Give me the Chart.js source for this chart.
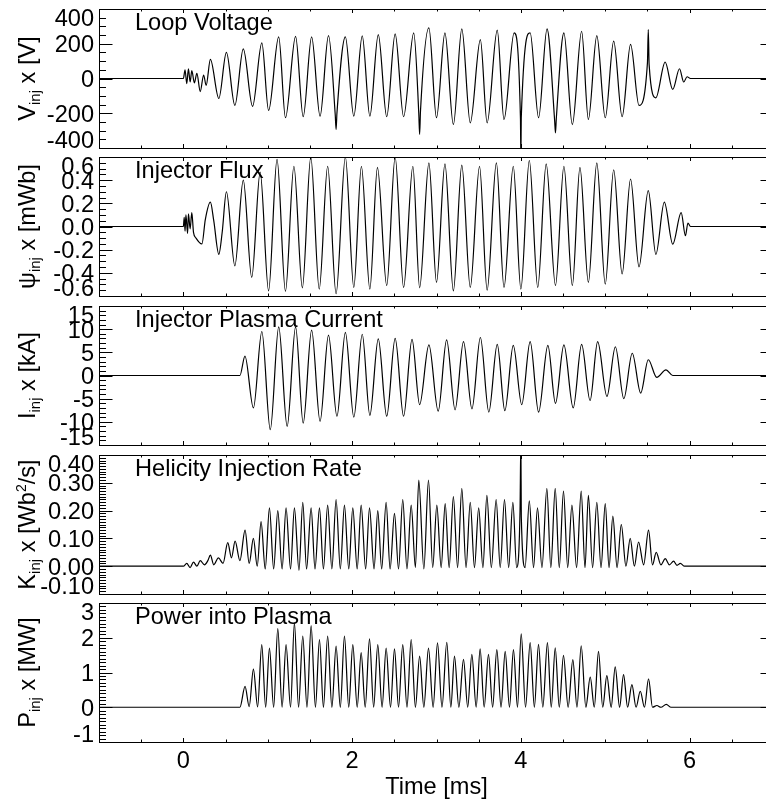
<!DOCTYPE html>
<html><head><meta charset="utf-8">
<script src="https://cdn.jsdelivr.net/npm/chart.js@4/dist/chart.umd.min.js"></script>
<style>
html,body{margin:0;padding:0;background:#fff;overflow:hidden;width:766px;height:806px;position:relative}
canvas{position:absolute;left:0;top:0}
</style></head><body>
<canvas id="c0" width="800" height="806"></canvas>
<canvas id="c1" width="800" height="806"></canvas>
<canvas id="c2" width="800" height="806"></canvas>
<canvas id="c3" width="800" height="806"></canvas>
<canvas id="c4" width="800" height="806"></canvas>
<script>
// ---------------- data ----------------
// Loop voltage [V]
const voltT = [-1, 0, 0.02, 0.04, 0.06, 0.08, 0.10, 0.13, 0.16, 0.20, 0.24, 0.27, 0.32, 0.42, 0.51, 0.61, 0.71, 0.82, 0.93, 1.01, 1.13, 1.21, 1.33, 1.42, 1.52, 1.62, 1.72, 1.80, 1.81, 1.82, 1.92, 2.02, 2.12, 2.21, 2.31, 2.41, 2.51, 2.61, 2.73, 2.79, 2.80, 2.81, 2.91, 3.00, 3.10, 3.20, 3.30, 3.40, 3.52, 3.60, 3.72, 3.80, 3.92, 3.995, 4.00, 4.005, 4.11, 4.21, 4.31, 4.40, 4.41, 4.42, 4.51, 4.61, 4.72, 4.80, 4.90, 5.00, 5.10, 5.20, 5.30, 5.40, 5.50, 5.51, 5.52, 5.60, 5.71, 5.80, 5.88, 5.93, 5.97, 6.01, 7];
const voltV = [0, 0, 50, -30, 55, -20, 45, -25, 30, -75, 20, -40, 110, -115, 150, -155, 170, -160, 205, -184, 240, -226, 243, -220, 240, -217, 247, -210, -293, -200, 240, -217, 245, -217, 253, -220, 257, -220, 263, -200, -322, -190, 291, -226, 263, -265, 286, -255, 224, -255, 278, -236, 263, -230, -460, -220, 263, -226, 286, -240, -313, -230, 263, -265, 272, -236, 247, -226, 215, -220, 196, -155, 90, 282, 80, -111, 94, -63, 56, -20, 10, 0, 0];
// Injector flux [mWb]
const psiT = [-1, 0, 0.01, 0.02, 0.03, 0.05, 0.06, 0.08, 0.10, 0.12, 0.15, 0.22, 0.26, 0.32, 0.36, 0.42, 0.46, 0.51, 0.61, 0.71, 0.81, 0.91, 1.01, 1.11, 1.21, 1.31, 1.41, 1.51, 1.61, 1.71, 1.81, 1.92, 2.02, 2.11, 2.21, 2.30, 2.41, 2.51, 2.61, 2.72, 2.80, 2.91, 3.00, 3.10, 3.20, 3.30, 3.40, 3.51, 3.60, 3.71, 3.80, 3.91, 4.00, 4.10, 4.20, 4.30, 4.41, 4.51, 4.61, 4.70, 4.80, 4.90, 5.00, 5.10, 5.20, 5.30, 5.40, 5.51, 5.60, 5.70, 5.80, 5.90, 5.95, 5.98, 6.01, 7];
const psiV = [0, 0, 0.08, -0.04, 0.10, -0.06, 0.11, -0.02, 0.12, -0.05, -0.10, -0.15, 0.06, 0.21, 0.05, -0.24, -0.05, 0.30, -0.34, 0.40, -0.44, 0.47, -0.555, 0.58, -0.56, 0.52, -0.53, 0.60, -0.54, 0.52, -0.58, 0.60, -0.526, 0.52, -0.54, 0.51, -0.51, 0.60, -0.526, 0.52, -0.53, 0.55, -0.483, 0.54, -0.555, 0.53, -0.526, 0.52, -0.549, 0.55, -0.526, 0.52, -0.54, 0.57, -0.526, 0.54, -0.51, 0.52, -0.51, 0.51, -0.483, 0.55, -0.497, 0.49, -0.41, 0.41, -0.348, 0.31, -0.24, 0.21, -0.152, 0.12, -0.08, 0.03, 0, 0];
// Injector plasma current [kA]
const curT = [-1, 0.67, 0.73, 0.83, 0.93, 1.03, 1.13, 1.23, 1.33, 1.42, 1.52, 1.62, 1.72, 1.82, 1.92, 2.02, 2.12, 2.21, 2.31, 2.41, 2.51, 2.61, 2.71, 2.80, 2.91, 3.02, 3.12, 3.22, 3.32, 3.42, 3.52, 3.62, 3.72, 3.81, 3.91, 4.01, 4.11, 4.21, 4.32, 4.41, 4.51, 4.62, 4.72, 4.82, 4.91, 5.02, 5.12, 5.22, 5.32, 5.42, 5.51, 5.61, 5.72, 5.80, 7];
const curV = [0, 0, 4.2, -7.0, 9.5, -11.7, 10.5, -11.0, 10.5, -10.3, 9.8, -9.9, 8.7, -8.8, 9.3, -9.0, 8.9, -8.6, 7.9, -8.8, 8.0, -8.8, 7.8, -6.3, 6.6, -7.7, 7.7, -7.4, 7.3, -7.2, 8.2, -7.9, 6.7, -7.6, 6.5, -6.3, 7.3, -7.9, 6.5, -6.0, 6.6, -7.0, 6.7, -5.4, 7.3, -4.5, 6.2, -5.0, 4.8, -3.8, 3.4, -0.4, 1.2, 0, 0];
// Helicity injection rate [Wb^2/s]
const kT = [-1, 0, 0.04, 0.08, 0.12, 0.16, 0.20, 0.25, 0.29, 0.32, 0.36, 0.415, 0.47, 0.526, 0.57, 0.613, 0.67, 0.731, 0.78, 0.83, 0.875, 0.921, 0.97, 1.02, 1.07, 1.119, 1.17, 1.217, 1.27, 1.316, 1.37, 1.415, 1.46, 1.514, 1.56, 1.613, 1.66, 1.71, 1.76, 1.81, 1.86, 1.909, 1.96, 2.008, 2.06, 2.107, 2.16, 2.206, 2.26, 2.304, 2.35, 2.403, 2.45, 2.502, 2.55, 2.60, 2.65, 2.70, 2.75, 2.79, 2.85, 2.905, 2.955, 3.004, 3.055, 3.103, 3.15, 3.20, 3.25, 3.30, 3.35, 3.40, 3.45, 3.50, 3.55, 3.597, 3.65, 3.707, 3.755, 3.806, 3.855, 3.905, 3.95, 3.99, 4.0, 4.005, 4.05, 4.10, 4.15, 4.197, 4.25, 4.308, 4.355, 4.407, 4.455, 4.505, 4.555, 4.605, 4.66, 4.715, 4.76, 4.80, 4.85, 4.90, 4.95, 5.0, 5.045, 5.09, 5.14, 5.19, 5.245, 5.296, 5.345, 5.395, 5.455, 5.513, 5.56, 5.604, 5.66, 5.711, 5.76, 5.81, 5.85, 5.89, 5.94, 6.0, 7];
const kV = [0, 0, 0.01, -0.005, 0.015, 0.0, 0.02, 0.005, 0.02, 0.04, 0.005, 0.03, 0.01, 0.085, 0.03, 0.09, 0.02, 0.13, 0.01, 0.10, 0.0, 0.16, -0.01, 0.21, -0.01, 0.20, -0.01, 0.21, -0.01, 0.21, -0.015, 0.23, -0.01, 0.21, -0.01, 0.21, -0.01, 0.22, -0.01, 0.24, -0.01, 0.22, -0.01, 0.21, -0.01, 0.22, -0.01, 0.21, -0.01, 0.20, -0.01, 0.23, -0.01, 0.19, -0.01, 0.24, -0.01, 0.22, -0.005, 0.31, -0.01, 0.31, -0.005, 0.22, -0.005, 0.225, -0.005, 0.25, -0.005, 0.28, -0.005, 0.23, -0.005, 0.21, -0.005, 0.255, -0.005, 0.24, -0.005, 0.24, -0.005, 0.23, -0.005, 0.20, 0.45, 0.18, -0.005, 0.235, -0.005, 0.21, -0.005, 0.28, -0.005, 0.28, -0.005, 0.27, -0.005, 0.22, -0.005, 0.27, -0.005, 0.255, -0.005, 0.23, -0.005, 0.225, -0.005, 0.18, -0.005, 0.15, 0.0, 0.10, 0.0, 0.087, 0.005, 0.13, 0.005, 0.05, 0.005, 0.027, 0.005, 0.018, 0.003, 0.01, 0.0, 0, 0];
// Power into plasma [MW]: peaks and lows
const pPeakT = [0.731, 0.83, 0.929, 1.02, 1.119, 1.217, 1.316, 1.415, 1.514, 1.613, 1.71, 1.81, 1.909, 2.008, 2.107, 2.206, 2.304, 2.403, 2.502, 2.60, 2.70, 2.80, 2.905, 3.012, 3.122, 3.213, 3.32, 3.419, 3.517, 3.616, 3.715, 3.814, 3.912, 4.004, 4.11, 4.209, 4.315, 4.407, 4.505, 4.616, 4.715, 4.822, 4.92, 5.019, 5.118, 5.217, 5.316, 5.415, 5.513, 5.612, 5.723];
const pPeakV = [0.6, 1.1, 1.8, 1.7, 2.26, 1.8, 2.43, 2.05, 2.35, 1.95, 2.05, 1.76, 2.05, 1.8, 1.57, 1.97, 1.8, 1.7, 1.68, 1.8, 1.95, 1.47, 1.7, 1.85, 1.87, 1.47, 1.38, 1.52, 1.68, 1.52, 1.66, 1.61, 1.66, 2.11, 1.86, 1.81, 1.86, 1.71, 1.49, 1.37, 1.77, 0.87, 1.61, 0.91, 1.16, 0.94, 0.65, 0.46, 0.82, 0.05, 0.08];
const pLowT = [-1, 0.67, 0.78, 0.88, 0.975, 1.07, 1.17, 1.27, 1.365, 1.465, 1.565, 1.66, 1.76, 1.86, 1.96, 2.06, 2.155, 2.255, 2.355, 2.455, 2.55, 2.65, 2.75, 2.85, 2.96, 3.065, 3.17, 3.265, 3.37, 3.47, 3.565, 3.665, 3.765, 3.865, 3.96, 4.055, 4.16, 4.26, 4.36, 4.455, 4.56, 4.665, 4.77, 4.87, 4.97, 5.07, 5.17, 5.265, 5.365, 5.465, 5.56, 5.66, 5.78, 7];
const pLowV = [0, 0, 0.02, 0.01, 0, 0, 0, 0, 0, 0, 0, 0, 0, 0, 0, 0, 0, 0, 0, 0, 0, 0, 0, 0, 0, 0, 0, 0, 0, 0, 0, 0, 0, 0, 0, 0, 0, 0, 0, 0, 0, 0, 0, 0, 0, 0, 0, 0, 0, 0, 0, 0, 0, 0];

// tick labels
const xTickVals = [0, 2, 4, 6];
const xTickText = ['0', '2', '4', '6'];
const vTickVals = [400, 200, 0, -200, -400];
const vTickText = ['400', '200', '0', '-200', '-400'];
const psiTickVals = [0.6, 0.4, 0.2, 0, -0.2, -0.4, -0.6];
const psiTickText = ['0.6', '0.4', '0.2', '0.0', '-0.2', '-0.4', '-0.6'];
const curTickVals = [15, 10, 5, 0, -5, -10, -15];
const curTickText = ['15', '10', '5', '0', '-5', '-10', '-15'];
const kTickVals = [0.4, 0.3, 0.2, 0.1, 0, -0.1];
const kTickText = ['0.40', '0.30', '0.20', '0.10', '0.00', '-0.10'];
const pTickVals = [3, 2, 1, 0, -1];
const pTickText = ['3', '2', '1', '0', '-1'];
const panelTitles = ['Loop Voltage', 'Injector Flux', 'Injector Plasma Current', 'Helicity Injection Rate', 'Power into Plasma'];

// ---------------- layout ----------------
const FONT = '"Liberation Sans", Arial, Helvetica, sans-serif';
const FS = 23.6;
const CW = 800, CH = 806;
const LEFT = 99, RIGHT = 774;

function pairs(t, v) { return t.map((x, i) => ({x: x, y: v[i]})); }
function merged(t1, v1, t2, v2) { return pairs(t1, v1).concat(pairs(t2, v2)).sort((a, b) => a.x - b.x); }

const sub = (t) => ({t: t, s: 15, dy: 5});
const panels = [
  {top: 9, bottom: 148, min: -400, max: 400, major: 200, minor: 50, tv: vTickVals, tt: vTickText,
   ylab: [{t: 'V', s: FS}, sub('inj'), {t: ' x [V]', s: FS}], data: pairs(voltT, voltV)},
  {top: 157, bottom: 296, min: -0.6, max: 0.6, major: 0.2, minor: 0.05, tv: psiTickVals, tt: psiTickText,
   ylab: [{t: 'ψ', s: FS}, sub('inj'), {t: ' x [mWb]', s: FS}], data: pairs(psiT, psiV)},
  {top: 306, bottom: 445, min: -15, max: 15, major: 5, minor: 1, tv: curTickVals, tt: curTickText,
   ylab: [{t: 'I', s: FS}, sub('inj'), {t: ' x [kA]', s: FS}], data: pairs(curT, curV)},
  {top: 455, bottom: 594, min: -0.1, max: 0.4, major: 0.1, minor: 0.01, tv: kTickVals, tt: kTickText,
   ylab: [{t: 'K', s: FS}, sub('inj'), {t: ' x [Wb', s: FS}, {t: '2', s: 14, dy: -9}, {t: '/s]', s: FS}], data: pairs(kT, kV)},
  {top: 603, bottom: 742, min: -1, max: 3, major: 1, minor: 0.1, tv: pTickVals, tt: pTickText,
   ylab: [{t: 'P', s: FS}, sub('inj'), {t: ' x [MW]', s: FS}], data: merged(pPeakT, pPeakV, pLowT, pLowV), xlabels: true}
];

function drawRotated(ctx, runs, bx, cy) {
  ctx.save();
  ctx.translate(bx, cy);
  ctx.rotate(-Math.PI / 2);
  let total = 0;
  runs.forEach(r => { ctx.font = r.s + 'px ' + FONT; r.w = ctx.measureText(r.t).width; total += r.w; });
  let x = -total / 2;
  ctx.textAlign = 'left'; ctx.textBaseline = 'alphabetic';
  runs.forEach(r => { ctx.font = r.s + 'px ' + FONT; ctx.fillText(r.t, x, r.dy || 0); x += r.w; });
  ctx.restore();
}

function framePlugin(p, idx) {
  return {
    id: 'frame' + idx,
    afterDraw(chart) {
      const ctx = chart.ctx, a = chart.chartArea, xs = chart.scales.x, ys = chart.scales.y;
      ctx.save();
      ctx.strokeStyle = '#000'; ctx.fillStyle = '#000'; ctx.lineWidth = 1;
      ctx.strokeRect(a.left + 0.5, a.top + 0.5, a.right - a.left, a.bottom - a.top);
      ctx.beginPath();
      // x ticks (inward, top and bottom)
      for (let i = 0; i <= 16; i++) {
        const t = -1 + i * 0.5;
        const px = Math.round(xs.getPixelForValue(t)) + 0.5;
        const len = (Math.abs(t % 2) < 1e-9) ? 4 : 2.5;
        ctx.moveTo(px, a.bottom); ctx.lineTo(px, a.bottom - len);
        ctx.moveTo(px, a.top); ctx.lineTo(px, a.top + len);
      }
      // y ticks (inward, left and right)
      const n = Math.round((p.max - p.min) / p.minor);
      for (let i = 0; i <= n; i++) {
        const v = p.min + i * p.minor;
        const q = v / p.major;
        const isMajor = Math.abs(q - Math.round(q)) < 1e-6;
        const len = isMajor ? 13.5 : 7;
        const py = Math.round(ys.getPixelForValue(v)) + 0.5;
        ctx.moveTo(a.left, py); ctx.lineTo(a.left + len, py);
        ctx.moveTo(a.right, py); ctx.lineTo(a.right - len, py);
      }
      ctx.stroke();
      // y tick labels
      ctx.font = FS + 'px ' + FONT;
      ctx.textAlign = 'right'; ctx.textBaseline = 'alphabetic';
      const half = 8.4;
      p.tv.forEach((v, i) => {
        let py = ys.getPixelForValue(v);
        py = Math.max(a.top + half, Math.min(a.bottom - half, py));
        ctx.fillText(p.tt[i], a.left - 5, py + half);
      });
      // panel title
      ctx.textAlign = 'left';
      ctx.fillText(panelTitles[idx], 135, a.top + 21);
      // y axis title
      drawRotated(ctx, p.ylab, 35, (a.top + a.bottom) / 2);
      // x tick labels + title
      if (p.xlabels) {
        ctx.font = FS + 'px ' + FONT;
        ctx.textAlign = 'center';
        xTickVals.forEach((v, i) => ctx.fillText(xTickText[i], xs.getPixelForValue(v), a.bottom + 26));
        ctx.fillText('Time [ms]', xs.getPixelForValue(3), a.bottom + 52);
      }
      ctx.restore();
    }
  };
}

panels.forEach((p, idx) => {
  new Chart(document.getElementById('c' + idx), {
    type: 'line',
    data: {datasets: [{data: p.data, borderColor: '#000', borderWidth: 1.2, pointRadius: 0,
      cubicInterpolationMode: 'monotone', fill: false, clip: 0}]},
    options: {
      responsive: false, animation: false, devicePixelRatio: 1, parsing: false,
      events: [],
      layout: {padding: {left: LEFT, right: CW - RIGHT, top: p.top, bottom: CH - p.bottom}},
      plugins: {legend: {display: false}, tooltip: {enabled: false}, title: {display: false}},
      scales: {
        x: {type: 'linear', min: -1, max: 7, display: false},
        y: {type: 'linear', min: p.min, max: p.max, display: false}
      }
    },
    plugins: [framePlugin(p, idx)]
  });
});
</script>
</body></html>
